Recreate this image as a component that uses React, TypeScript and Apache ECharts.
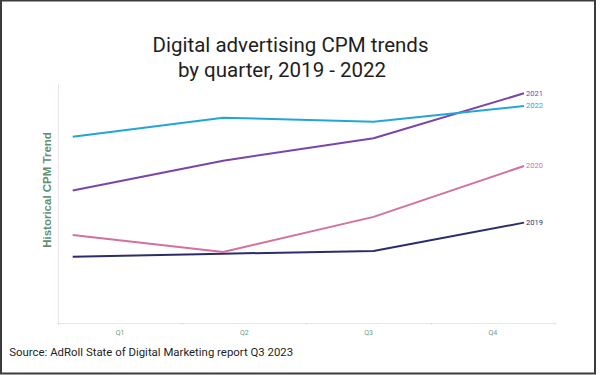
import React, { useEffect, useRef } from "react";
import * as echarts from "echarts";

const quarters = ["Q1", "Q2", "Q3", "Q4"];
const seriesNames = ["2019", "2020", "2021", "2022"];
const values2019 = [27.7, 29.0, 30.1, 42.0];
const values2020 = [36.8, 29.7, 44.4, 65.7];
const values2021 = [55.4, 67.9, 77.3, 96.1];
const values2022 = [77.9, 85.9, 84.2, 90.8];
const seriesColors = ["#2b2d6b", "#d3709f", "#7b44a8", "#22a6d8"];
const titleLines = ["Digital advertising CPM trends", "by quarter, 2019 - 2022"];
const yAxisName = "Historical CPM Trend";
const sourceText = "Source: AdRoll State of Digital Marketing report Q3 2023";

export default function App() {
  const ref = useRef<HTMLDivElement>(null);
  useEffect(() => {
    if (!ref.current) return;
    const chart = echarts.init(ref.current, null, { renderer: "svg" });
    const data = [values2019, values2020, values2021, values2022];
    chart.setOption({
      animation: false,
      backgroundColor: "#ffffff",
      grid: [
        { left: 58, right: 45, top: 84, bottom: 52 },
        { left: 72.7, right: 76, top: 84, bottom: 52 },
      ],
      xAxis: [
        {
          type: "category",
          gridIndex: 0,
          data: quarters,
          boundaryGap: true,
          axisLine: { show: true, lineStyle: { color: "#ece2e8", width: 1 } },
          axisTick: { show: true, length: 2, lineStyle: { color: "#e2dde0" } },
          axisLabel: { color: "#6e9a86", fontSize: 7, fontFamily: "Roboto", margin: 6 },
          splitLine: { show: false },
        },
        {
          type: "category",
          gridIndex: 1,
          data: quarters,
          boundaryGap: false,
          show: false,
        },
      ],
      yAxis: [
        {
          type: "value",
          gridIndex: 0,
          min: 0,
          max: 100,
          axisLine: { show: true, lineStyle: { color: "#ece2e8", width: 1 } },
          axisTick: { show: false },
          axisLabel: { show: false },
          splitLine: { show: false },
        },
        {
          type: "value",
          gridIndex: 1,
          min: 0,
          max: 100,
          show: false,
          splitLine: { show: false },
        },
      ],
      series: seriesNames.map((name, i) => ({
        name,
        type: "line",
        xAxisIndex: 1,
        yAxisIndex: 1,
        data: data[i],
        symbol: "none",
        lineStyle: { color: seriesColors[i], width: 2 },
        itemStyle: { color: seriesColors[i] },
        endLabel: {
          show: true,
          formatter: "{a}",
          color: seriesColors[i],
          fontSize: 7.5,
          fontFamily: "Roboto",
          distance: 2,
        },
      })),
      graphic: [
        {
          type: "rect",
          shape: { x: 1, y: 0.5, width: 594, height: 373 },
          style: { fill: "none", stroke: "#3c3c3c", lineWidth: 2 },
          silent: true,
        },
        {
          type: "text",
          x: 290.5,
          y: 45,
          style: {
            text: titleLines[0],
            font: "20.5px Roboto",
            fill: "#1e1e1e",
            textAlign: "center",
            textVerticalAlign: "middle",
          },
        },
        {
          type: "text",
          x: 282,
          y: 70,
          style: {
            text: titleLines[1],
            font: "20.5px Roboto",
            fill: "#1e1e1e",
            textAlign: "center",
            textVerticalAlign: "middle",
          },
        },
        {
          type: "text",
          x: 46.7,
          y: 190,
          rotation: Math.PI / 2,
          style: {
            text: yAxisName,
            font: "bold 11.5px 'Liberation Sans'",
            fill: "#5f8f72",
            textAlign: "center",
            textVerticalAlign: "middle",
          },
        },
        {
          type: "text",
          x: 9.3,
          y: 352,
          style: {
            text: sourceText,
            font: "11.4px Roboto",
            fill: "#1e1e1e",
            textAlign: "left",
            textVerticalAlign: "middle",
          },
        },
      ],
    });
    return () => chart.dispose();
  }, []);
  return <div ref={ref} style={{ width: 600, height: 375, position: "fixed", left: 0, top: 0 }} />;
}
